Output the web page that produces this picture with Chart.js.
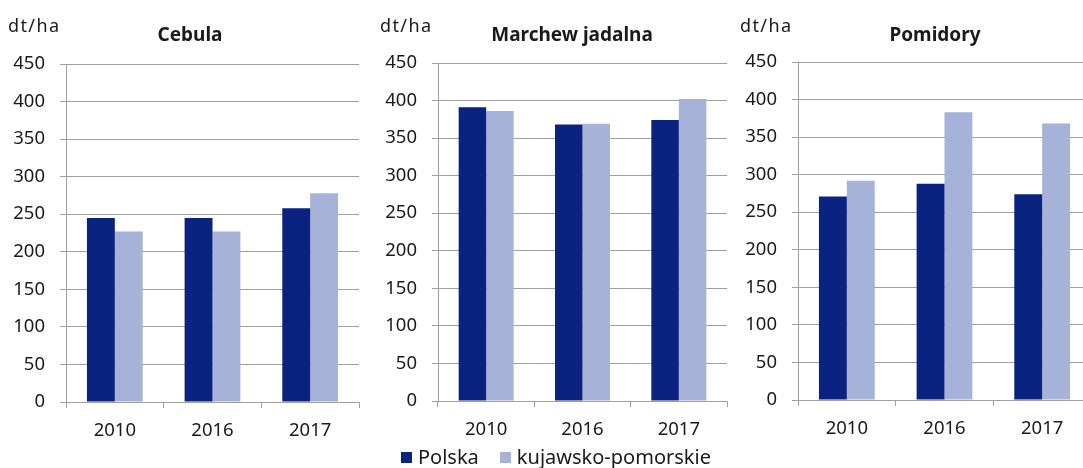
<!DOCTYPE html>
<html>
<head>
<meta charset="utf-8">
<script src="https://cdn.jsdelivr.net/npm/chart.js@4.4.1/dist/chart.umd.min.js"></script>
<style>
  body { margin: 0; width: 1083px; height: 468px; overflow: hidden; background: #fff; position: relative; font-family: "Noto Sans", sans-serif; }
  canvas { position: absolute; top: 0; }
  #legend { position: absolute; left: 401px; top: 445px; height: 24px; display: flex; align-items: center; font-size: 20px; color: #1a1a1a; line-height: 24px; }
  #legend .item { display: flex; align-items: center; margin-right: 21px; }
  #legend .box { width: 11px; height: 11px; margin-right: 6px; }
</style>
</head>
<body>
<canvas id="c1" width="370" height="468" style="left:0px"></canvas>
<canvas id="c2" width="368" height="468" style="left:370px"></canvas>
<canvas id="c3" width="372" height="468" style="left:730px"></canvas>
<div id="legend"></div>
<script>
let years = ['2010', '2016', '2017'];
let seriesNames = ['Polska', 'kujawsko-pomorskie'];
let seriesColors = ['#0a2380', '#a6b2d7'];

let cebulaPolska = [245, 245, 258];
let cebulaKuj = [227, 227, 278];
let marchewPolska = [391, 368, 374];
let marchewKuj = [386, 369, 402];
let pomidoryPolska = [271, 288, 274];
let pomidoryKuj = [292, 383, 368];

let unitLabel = 'dt/ha';
let gridColor = '#a0a0a0';
let textColor = '#1a1a1a';

// titles and the unit label drawn on top of each panel
let panelText = {
    id: 'panelText',
    afterDraw(chart, args, opts) {
        let c = chart.ctx;
        c.save();
        c.fillStyle = textColor;
        c.textBaseline = 'alphabetic';
        c.font = '18px "Noto Sans"';
        c.letterSpacing = '1.4px';
        c.textAlign = 'left';
        c.fillText(unitLabel, opts.unitX, 32);
        c.letterSpacing = '0px';
        c.font = 'bold 19px "Noto Sans"';
        c.textAlign = 'center';
        c.fillText(opts.title, opts.titleX, 41);
        c.restore();
    }
};

function makePanel(id, title, polska, kuj, p) {
    return new Chart(document.getElementById(id), {
        type: 'bar',
        data: {
            labels: years,
            datasets: [
                { label: seriesNames[0], data: polska, backgroundColor: seriesColors[0] },
                { label: seriesNames[1], data: kuj, backgroundColor: seriesColors[1] }
            ]
        },
        plugins: [panelText],
        options: {
            responsive: false,
            animation: false,
            categoryPercentage: 0.571,
            barPercentage: 1,
            layout: { padding: { left: 0, right: p.right, top: p.top, bottom: 0 } },
            plugins: {
                legend: { display: false },
                tooltip: { enabled: false },
                panelText: { title: title, titleX: p.titleX, unitX: p.unitX }
            },
            scales: {
                x: {
                    offset: true,
                    grid: { offset: true, drawOnChartArea: false, drawTicks: true, tickLength: 6, color: gridColor },
                    border: { display: true, color: gridColor },
                    ticks: { color: textColor, padding: 12, font: { family: 'Noto Sans', size: 18.5 } },
                    afterFit: (s) => { s.height = 468 - p.bottom; }
                },
                y: {
                    min: 0,
                    max: 450,
                    ticks: { stepSize: 50, color: textColor, padding: 15, font: { family: 'Noto Sans', size: 18.5 } },
                    grid: { color: gridColor, tickLength: 6 },
                    border: { display: true, color: gridColor },
                    afterFit: (s) => { s.width = p.yWidth; }
                }
            }
        }
    });
}

makePanel('c1', 'Cebula', cebulaPolska, cebulaKuj, { right: 11, top: 64, bottom: 402, yWidth: 66, titleX: 190, unitX: 8 });
makePanel('c2', 'Marchew jadalna', marchewPolska, marchewKuj, { right: 11, top: 63, bottom: 401, yWidth: 68, titleX: 202, unitX: 10 });
makePanel('c3', 'Pomidory', pomidoryPolska, pomidoryKuj, { right: 11, top: 62, bottom: 400, yWidth: 68, titleX: 205, unitX: 10 });

let legend = document.getElementById('legend');
seriesNames.forEach((name, i) => {
    let item = document.createElement('div');
    item.className = 'item';
    let box = document.createElement('span');
    box.className = 'box';
    box.style.background = seriesColors[i];
    let txt = document.createElement('span');
    txt.textContent = name;
    item.appendChild(box);
    item.appendChild(txt);
    legend.appendChild(item);
});
</script>
</body>
</html>
